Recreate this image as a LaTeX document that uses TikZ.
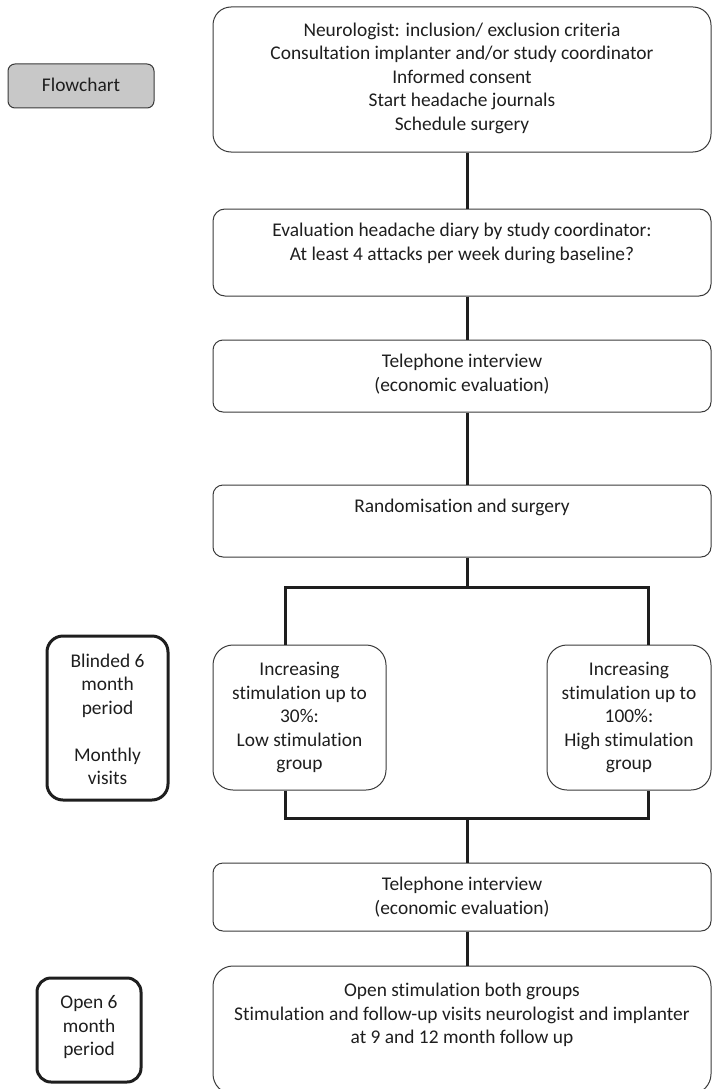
\documentclass[tikz,border=0pt]{standalone}
\usepackage{fontspec}
\setmainfont{Carlito}[Ligatures=NoCommon]
\usetikzlibrary{calc}
\definecolor{txt}{HTML}{1E1E1E}
\definecolor{bord}{HTML}{3A3A3A}
\definecolor{flowfill}{HTML}{C8C8C8}
\tikzset{
  box/.style={draw=bord, line width=1pt, rectangle, inner sep=0pt},
  thickbox/.style={draw=txt, line width=3pt, rectangle, inner sep=0pt},
  conn/.style={draw=txt, line width=3pt},
  label/.style={text=txt, align=center, inner sep=0pt, font=\fontsize{19.4}{23.5}\selectfont},
}
\begin{document}
\begin{tikzpicture}[x=1pt, y=-1pt]
\useasboundingbox (0,0) rectangle (712,1089);
% boxes
\node[box, fill=flowfill, rounded corners=7pt, minimum width=146pt, minimum height=44pt] (flow) at (81,86) {};
\node[box, rounded corners=18pt, minimum width=498pt, minimum height=145pt] (top) at (462,79.5) {};
\node[box, rounded corners=12pt, minimum width=498pt, minimum height=87pt] (eval) at (462,252.5) {};
\node[box, rounded corners=10pt, minimum width=498pt, minimum height=72pt] (tel1) at (462,376) {};
\node[box, rounded corners=10pt, minimum width=498pt, minimum height=72pt] (rand) at (462,521) {};
\node[box, rounded corners=20pt, minimum width=173pt, minimum height=145pt] (low) at (299.5,717.5) {};
\node[box, rounded corners=20pt, minimum width=164pt, minimum height=145pt] (high) at (629,717.5) {};
\node[box, rounded corners=10pt, minimum width=498pt, minimum height=68pt] (tel2) at (462,897) {};
\node[box, rounded corners=20pt, minimum width=498pt, minimum height=128pt] (open) at (462,1030) {};
\node[thickbox, rounded corners=16pt, minimum width=121pt, minimum height=164pt] (blind) at (107.5,718) {};
\node[thickbox, rounded corners=14pt, minimum width=104pt, minimum height=104pt] (open6) at (89,1030) {};
% texts
\node[label] (tflow) at (81,85) {Flowchart};
\node[label] (ttop) at (462,78) {Neurologist: inclusion/ exclusion criteria\\Consultation implanter and/or study coordinator\\Informed consent\\Start headache journals\\Schedule surgery};
\node[label] (teval) at (462,243.5) {Evaluation headache diary by study coordinator:\\At least 4 attacks per week during baseline?};
\node[label] (ttel1) at (462,374) {Telephone interview\\(economic evaluation)};
\node[label] (trand) at (462,507) {Randomisation and surgery};
\node[label] (tlow) at (299.5,717.5) {Increasing\\stimulation up to\\30\%:\\Low stimulation\\group};
\node[label] (thigh) at (629,717.5) {Increasing\\stimulation up to\\100\%:\\High stimulation\\group};
\node[label] (ttel2) at (462,897) {Telephone interview\\(economic evaluation)};
\node[label] (topen) at (462,1015) {Open stimulation both groups\\Stimulation and follow-up visits neurologist and implanter\\at 9 and 12 month follow up};
\node[label] (tblind) at (107.5,719.5) {Blinded 6\\month\\period\\[23.5pt]Monthly\\visits};
\node[label] (topen6) at (89,1027) {Open 6\\month\\period};
% connector coordinates
\coordinate (cx) at (467,0);
\coordinate (lx) at (285,0);
\coordinate (rx) at (648,0);
\coordinate (sp) at (0,587);
\coordinate (jn) at (0,818);
% connectors
\draw[conn] (top.south -| cx) -- (eval.north -| cx);
\draw[conn] (eval.south -| cx) -- (tel1.north -| cx);
\draw[conn] (tel1.south -| cx) -- (rand.north -| cx);
\draw[conn] (rand.south -| cx) -- (cx |- sp);
\draw[conn] (low.north -| lx) -- (lx |- sp) -- (rx |- sp) -- (high.north -| rx);
\draw[conn] (low.south -| lx) -- (lx |- jn) -- (rx |- jn) -- (high.south -| rx);
\draw[conn] (cx |- jn) -- (tel2.north -| cx);
\draw[conn] (tel2.south -| cx) -- (open.north -| cx);
\end{tikzpicture}
\end{document}
